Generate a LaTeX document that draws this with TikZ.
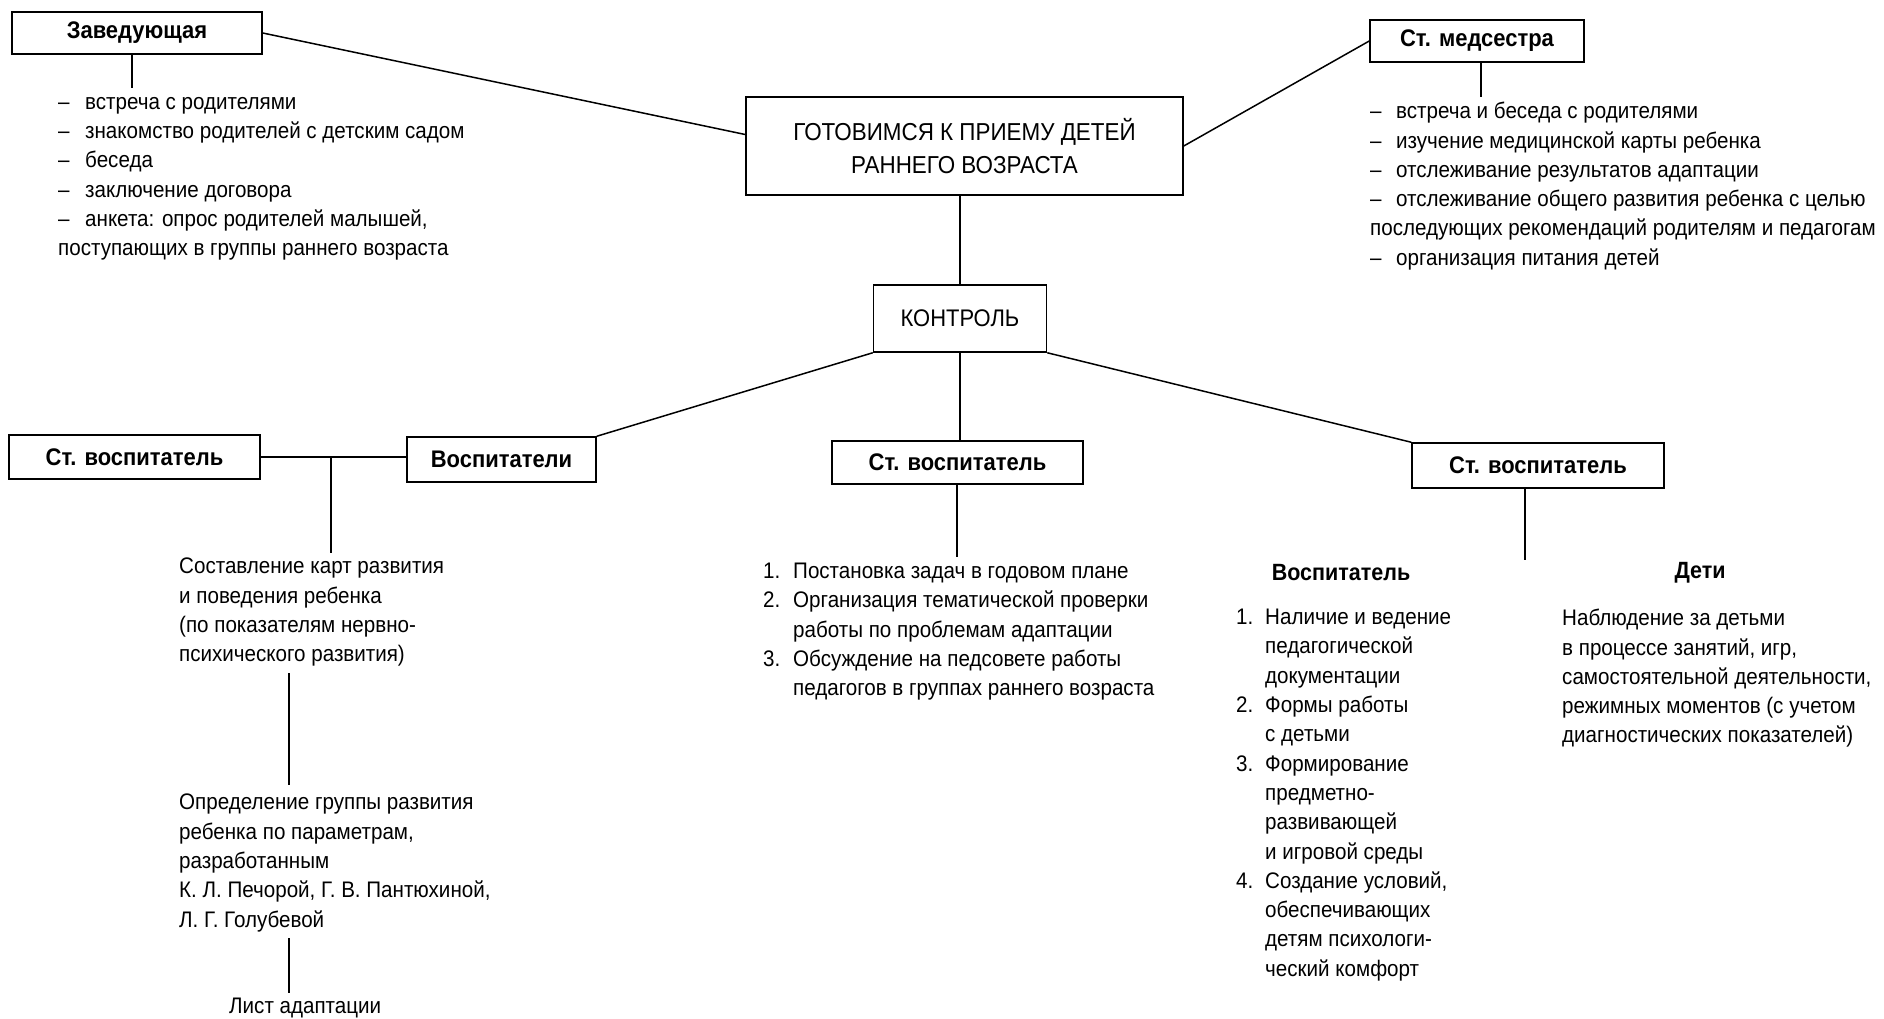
\documentclass[tikz,border=0pt]{standalone}
\usepackage{fontspec}
\setmainfont{Liberation Sans}[FakeStretch=0.915]
\usetikzlibrary{calc}
\newcommand\dsh[1]{\makebox[#1][l]{–}}
\newcommand\numb[1]{\makebox[30pt][l]{#1}}
\newcommand\numc[1]{\makebox[29pt][l]{#1}}
\begin{document}
\begin{tikzpicture}[x=1pt,y=-1pt,
  box/.style={draw, line width=1.5pt, inner sep=0pt, font=\fontsize{24}{28}\selectfont\bfseries},
  txt/.style={inner sep=0pt, anchor=north west, align=left, font=\fontsize{22.5}{29.3}\selectfont},
  head/.style={inner sep=0pt, font=\fontsize{23.5}{28}\selectfont\bfseries},
  conn/.style={line width=1.5pt}]
\useasboundingbox[fill=white] (0,0) rectangle (1884,1018);

% boxes
\node[box, minimum width=250pt, minimum height=42pt] (zav) at (137,33) {Заведующая};
\node[box, font=\fontsize{24.5}{33.5}\selectfont, align=center, minimum width=437pt, minimum height=98pt] (main) at (964.5,146) {ГОТОВИМСЯ К ПРИЕМУ ДЕТЕЙ\\РАННЕГО ВОЗРАСТА};
\node[box, minimum width=214pt, minimum height=42pt] (med) at (1477,41) {Ст. медсестра};
\node[box, font=\fontsize{24}{28}\selectfont, minimum width=173pt, minimum height=67pt] (kontrol) at (960,318.5) {КОНТРОЛЬ};
\node[box, minimum width=251pt, minimum height=44pt] (stvL) at (134.5,457) {Ст. воспитатель};
\node[box, minimum width=189pt, minimum height=45pt] (vosp) at (501.5,459.5) {Воспитатели};
\node[box, minimum width=251pt, minimum height=43pt] (stvM) at (957.5,462.5) {Ст. воспитатель};
\node[box, minimum width=252pt, minimum height=45pt] (stvR) at (1538,465.5) {Ст. воспитатель};

% texts
\node[txt] (zavlist) at (58,97) {\dsh{27pt}встреча с родителями\\
\dsh{27pt}знакомство родителей с детским садом\\
\dsh{27pt}беседа\\
\dsh{27pt}заключение договора\\
\dsh{27pt}анкета: опрос родителей малышей,\\
поступающих в группы раннего возраста};

\node[txt] (medlist) at (1370,102) {\dsh{26pt}встреча и беседа с родителями\\
\dsh{26pt}изучение медицинской карты ребенка\\
\dsh{26pt}отслеживание результатов адаптации\\
\dsh{26pt}отслеживание общего развития ребенка с целью\\
последующих рекомендаций родителям и педагогам\\
\dsh{26pt}организация питания детей};

\node[txt] (sost) at (179,558) {Составление карт развития\\
и поведения ребенка\\
(по показателям нервно-\\
психического развития)};

\node[txt] (opred) at (179,794) {Определение группы развития\\
ребенка по параметрам,\\
разработанным\\
К. Л. Печорой, Г. В. Пантюхиной,\\
Л. Г. Голубевой};

\node[txt] (list) at (229,998) {Лист адаптации};

\node[txt] (mlist) at (763,563) {\numb{1.}Постановка задач в годовом плане\\
\numb{2.}Организация тематической проверки\\
\numb{}работы по проблемам адаптации\\
\numb{3.}Обсуждение на педсовете работы\\
\numb{}педагогов в группах раннего возраста};

\node[head] (hvosp) at (1341,573) {Воспитатель};
\node[head] (hdeti) at (1700,573) {Дети};

\node[txt] (vlist) at (1236,609) {\numc{1.}Наличие и ведение\\
\numc{}педагогической\\
\numc{}документации\\
\numc{2.}Формы работы\\
\numc{}с детьми\\
\numc{3.}Формирование\\
\numc{}предметно-\\
\numc{}развивающей\\
\numc{}и игровой среды\\
\numc{4.}Создание условий,\\
\numc{}обеспечивающих\\
\numc{}детям психологи-\\
\numc{}ческий комфорт};

\node[txt] (dlist) at (1562,609) {Наблюдение за детьми\\
в процессе занятий, игр,\\
самостоятельной деятельности,\\
режимных моментов (с учетом\\
диагностических показателей)};

% connectors
\coordinate (zavend) at (132,88);
\draw[conn] (zav.south -| zavend) -- (zavend);
\draw[conn] (zav.east) -- (main.177);
\draw[conn] (main.east) -- (med.west);
\coordinate (medend) at (1481,97);
\draw[conn] (med.south -| medend) -- (medend);
\draw[conn] (main.south -| kontrol.north) -- (kontrol.north);
\draw[conn] (kontrol.south west) -- (vosp.north east);
\draw[conn] (kontrol.south) -- (kontrol.south |- stvM.north);
\draw[conn] (kontrol.south east) -- (stvR.north west);
\draw[conn] (stvL.east) -- (vosp.west |- stvL.east);
\coordinate (jLend) at (331,553);
\draw[conn] (jLend |- stvL.east) -- (jLend);
\coordinate (l2a) at (289,673);
\coordinate (l2b) at (289,785);
\draw[conn] (l2a) -- (l2b);
\coordinate (l3a) at (289,938);
\coordinate (l3b) at (289,993);
\draw[conn] (l3a) -- (l3b);
\coordinate (stvMend) at (957,557);
\draw[conn] (stvM.south -| stvMend) -- (stvMend);
\coordinate (stvRend) at (1525,560);
\draw[conn] (stvR.south -| stvRend) -- (stvRend);
\end{tikzpicture}
\end{document}
